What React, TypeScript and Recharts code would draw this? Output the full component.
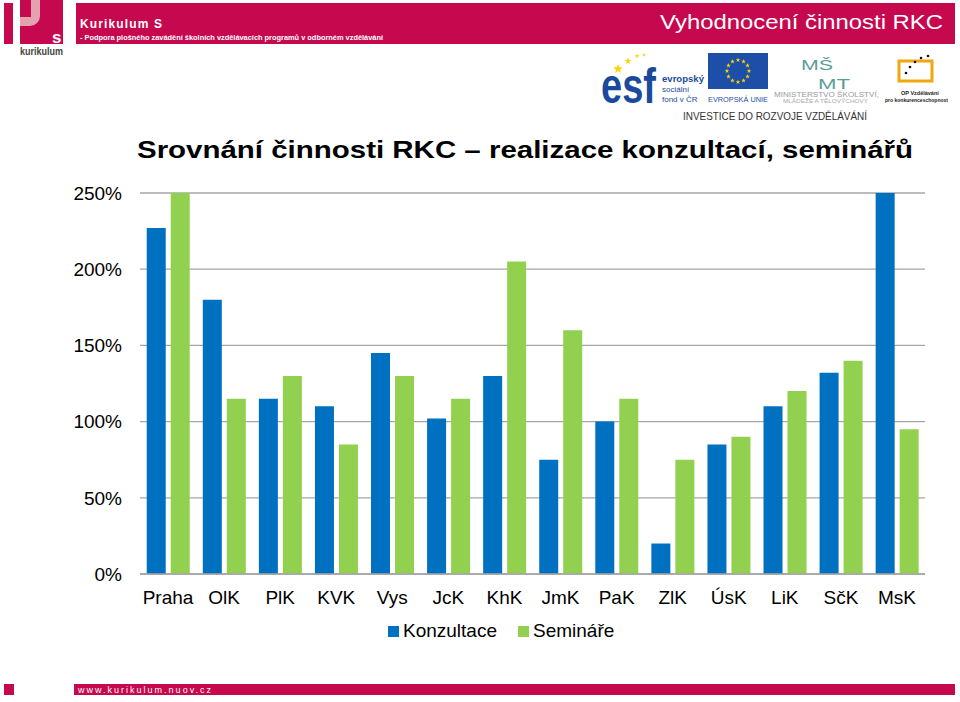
import { type JSX } from 'react';
import {
  BarChart,
  Bar,
  CartesianGrid,
  XAxis,
  YAxis,
  Legend,
} from 'recharts';

const regions = ['Praha', 'OlK', 'PlK', 'KVK', 'Vys', 'JcK', 'KhK', 'JmK', 'PaK', 'ZlK', 'ÚsK', 'LiK', 'SčK', 'MsK'];
const konzultace = [227, 180, 115, 110, 145, 102, 130, 75, 100, 20, 85, 110, 132, 250];
const seminare = [250, 115, 130, 85, 130, 115, 205, 160, 115, 75, 90, 120, 140, 95];
const yTicks = [0, 50, 100, 150, 200, 250];

const CRIMSON = '#C6084F';
const BLUE = '#0070C0';
const GREEN = '#92D050';
const GRID = '#A6A6A6';
const FONT = "'Liberation Sans', Arial, Helvetica, sans-serif";

const chartData = regions.map((name, i) => ({
  name,
  konzultace: konzultace[i],
  seminare: seminare[i],
}));

function starPath(cx: number, cy: number, r: number): string {
  const pts: string[] = [];
  for (let k = 0; k < 10; k++) {
    const rad = k % 2 === 0 ? r : r * 0.42;
    const a = -Math.PI / 2 + (k * Math.PI) / 5;
    pts.push(`${(cx + rad * Math.cos(a)).toFixed(2)},${(cy + rad * Math.sin(a)).toFixed(2)}`);
  }
  return `M${pts.join('L')}Z`;
}

function LegendContent(): JSX.Element {
  const items = [
    { label: 'Konzultace', color: BLUE },
    { label: 'Semináře', color: GREEN },
  ];
  return (
    <div style={{ display: 'flex', alignItems: 'center', fontSize: 19, color: '#000', whiteSpace: 'nowrap' }}>
      {items.map((it) => (
        <span key={it.label} style={{ display: 'flex', alignItems: 'center', marginRight: 21 }}>
          <span style={{ width: 11, height: 11, background: it.color, display: 'inline-block', marginRight: 4 }} />
          {it.label}
        </span>
      ))}
    </div>
  );
}

function Decorations(): JSX.Element {
  const euStars = Array.from({ length: 12 }, (_, k) => {
    const a = (k * Math.PI) / 6;
    return starPath(738 + 11 * Math.cos(a), 71 + 11 * Math.sin(a), 2.4);
  });
  return (
    <svg width={960} height={702} style={{ position: 'absolute', left: 0, top: 0 }} fontFamily={FONT}>
      {/* logo left */}
      <rect x={4} y={3} width={9} height={41} fill={CRIMSON} />
      <rect x={20} y={0} width={43} height={44} fill={CRIMSON} />
      <path d="M20 0 H40 V16 A10 10 0 0 1 30 26 H20 Z" fill="#E2A3AF" />
      <rect x={20} y={0} width={11} height={17} fill={CRIMSON} />
      <text x={52} y={43} fontSize={17} fontWeight="bold" fill="#fff">s</text>
      <text x={20} y={55} fontSize={10} fontWeight="bold" fill="#444" textLength={43} lengthAdjust="spacingAndGlyphs">kurikulum</text>

      {/* banner */}
      <rect x={76} y={3} width={879} height={41} fill={CRIMSON} />
      <text x={80} y={28} fontSize={12} fontWeight="bold" fill="#fff" textLength={82} lengthAdjust="spacing">Kurikulum S</text>
      <text x={80} y={40} fontSize={8} fontWeight="bold" fill="#fff" textLength={303} lengthAdjust="spacingAndGlyphs">
        - Podpora plošného zavádění školních vzdělávacích programů v odborném vzdělávání
      </text>
      <text x={660} y={29} fontSize={21} fill="#fff" textLength={283} lengthAdjust="spacingAndGlyphs">Vyhodnocení činnosti RKC</text>

      {/* ESF */}
      <g transform="translate(601,103) scale(1,1.3)">
        <text x={0} y={0} fontSize={38} fontWeight="bold" fill="#1A4A9C">esf</text>
      </g>
      <path d={starPath(618, 69, 5)} fill="#FFD200" />
      <path d={starPath(628, 61, 3.5)} fill="#FFD200" />
      <path d={starPath(637, 56, 2.5)} fill="#FFD200" />
      <path d={starPath(644, 55, 2)} fill="#FFD200" />
      <text x={662} y={82} fontSize={8.5} fontWeight="bold" fill="#1A4A9C" textLength={42} lengthAdjust="spacingAndGlyphs">evropský</text>
      <text x={662} y={92} fontSize={8} fill="#1A4A9C">sociální</text>
      <text x={662} y={102} fontSize={8} fill="#1A4A9C">fond v ČR</text>

      {/* EU */}
      <rect x={708} y={53} width={60} height={36} fill="#1D4FA8" />
      {euStars.map((d, k) => (
        <path key={k} d={d} fill="#FFD200" />
      ))}
      <text x={708} y={102} fontSize={8} fill="#1D4FA8" textLength={60} lengthAdjust="spacingAndGlyphs">EVROPSKÁ UNIE</text>

      {/* MSMT */}
      <text x={801} y={70} fontSize={15} fill="#5E9C9A" textLength={32} lengthAdjust="spacingAndGlyphs">MŠ</text>
      <text x={818} y={89} fontSize={15} fill="#5E9C9A" textLength={32} lengthAdjust="spacingAndGlyphs">MT</text>
      <text x={774} y={97} fontSize={7} fill="#999" textLength={105} lengthAdjust="spacingAndGlyphs">MINISTERSTVO ŠKOLSTVÍ,</text>
      <text x={783} y={103} fontSize={6} fill="#aaa" textLength={85} lengthAdjust="spacingAndGlyphs">MLÁDEŽE A TĚLOVÝCHOVY</text>

      {/* OP */}
      <rect x={899} y={61} width={33} height={20} fill="none" stroke="#F2A60D" strokeWidth={3} />
      <circle cx={906} cy={73} r={1.3} fill="#111" />
      <circle cx={910} cy={67} r={1.3} fill="#111" />
      <circle cx={915} cy={62} r={1.3} fill="#111" />
      <circle cx={921} cy={58} r={1.3} fill="#111" />
      <circle cx={928} cy={56} r={1.3} fill="#111" />
      <text x={901} y={95} fontSize={5.5} fontWeight="bold" fill="#222">OP Vzdělávání</text>
      <text x={885} y={102} fontSize={5.5} fontWeight="bold" fill="#222" textLength={63} lengthAdjust="spacingAndGlyphs">pro konkurenceschopnost</text>

      <text x={683} y={120} fontSize={10.5} fill="#333" textLength={184} lengthAdjust="spacingAndGlyphs">INVESTICE DO ROZVOJE VZDĚLÁVÁNÍ</text>

      {/* title */}
      <text x={137} y={158} fontSize={24} fontWeight="bold" fill="#000" textLength={776} lengthAdjust="spacingAndGlyphs">
        Srovnání činnosti RKC – realizace konzultací, seminářů
      </text>

      {/* footer */}
      <rect x={4} y={684} width={10} height={11} fill={CRIMSON} />
      <rect x={74} y={684} width={881} height={11} fill={CRIMSON} />
      <text x={78} y={693} fontSize={9} fill="#fff" textLength={133} lengthAdjust="spacing">www.kurikulum.nuov.cz</text>
    </svg>
  );
}

export default function App(): JSX.Element {
  return (
    <div
      style={{
        position: 'absolute',
        left: 0,
        top: 0,
        width: 960,
        height: 702,
        background: '#fff',
        fontFamily: FONT,
        overflow: 'hidden',
      }}
    >
      <Decorations />
      <div style={{ position: 'absolute', left: 0, top: 0 }}>
        <BarChart
          width={960}
          height={702}
          data={chartData}
          margin={{ top: 193, right: 35, bottom: 98, left: 0 }}
          barCategoryGap="12%"
          barGap={5}
        >
          <CartesianGrid vertical={false} stroke={GRID} strokeWidth={1.3} />
          <XAxis
            dataKey="name"
            tickLine={false}
            axisLine={{ stroke: GRID, strokeWidth: 1.3 }}
            tick={{ fontSize: 19, fill: '#000' }}
            tickMargin={11}
            interval={0}
          />
          <YAxis
            domain={[0, 250]}
            ticks={yTicks}
            allowDataOverflow
            width={140}
            tickLine={false}
            axisLine={false}
            tick={{ fontSize: 19, fill: '#000' }}
            tickMargin={12}
            tickFormatter={(v: number) => `${v}%`}
          />
          <Legend
            layout="horizontal"
            verticalAlign="middle"
            align="center"
            wrapperStyle={{ left: 388, top: 620, width: 300 }}
            content={() => <LegendContent />}
          />
          <Bar dataKey="konzultace" name="Konzultace" fill={BLUE} isAnimationActive={false} />
          <Bar dataKey="seminare" name="Semináře" fill={GREEN} isAnimationActive={false} />
        </BarChart>
      </div>
    </div>
  );
}
